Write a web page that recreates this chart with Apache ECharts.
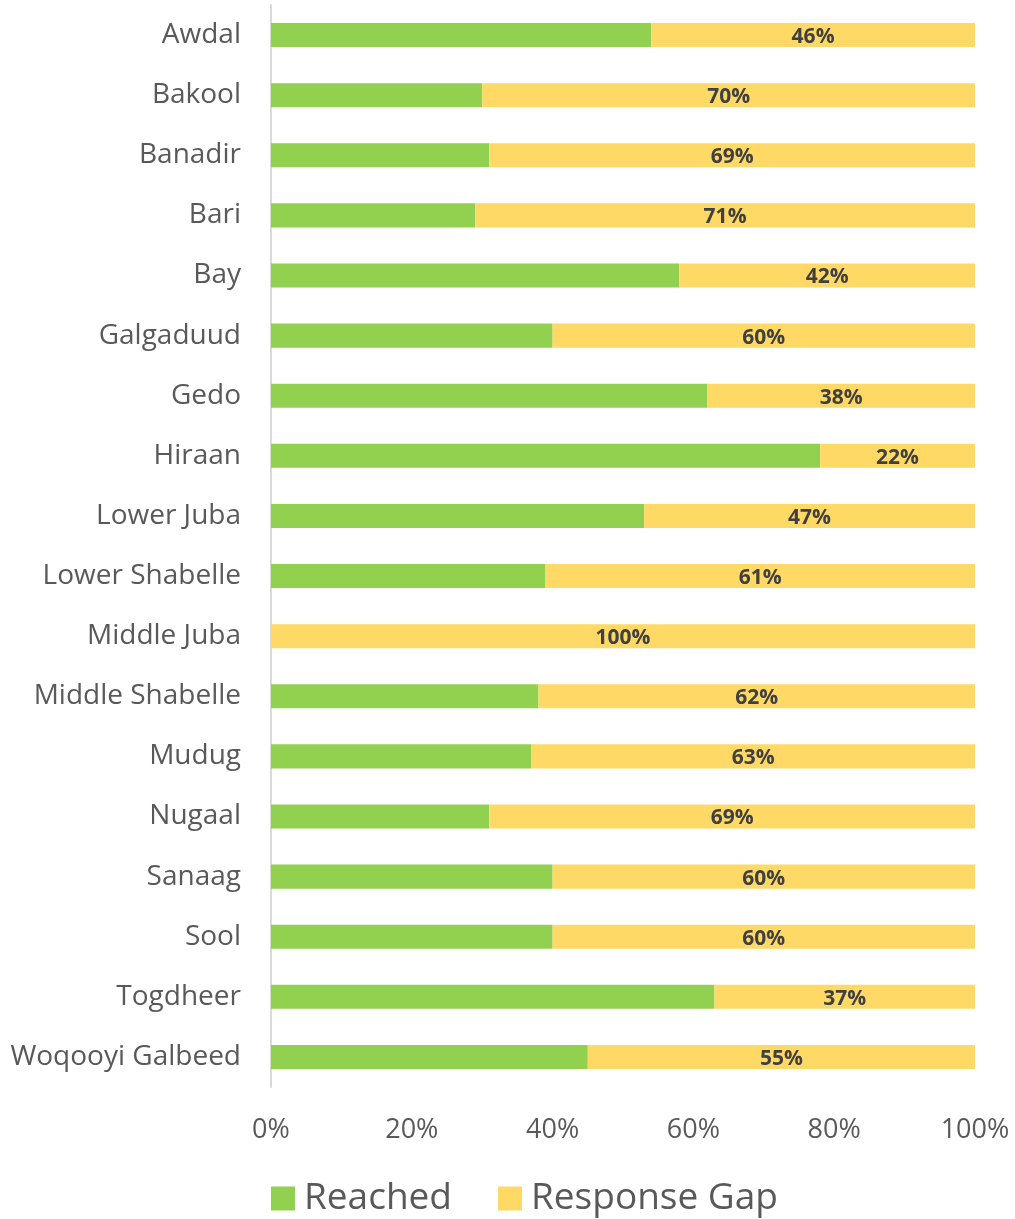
<!DOCTYPE html>
<html>
<head>
<meta charset="utf-8">
<script src="https://cdn.jsdelivr.net/npm/echarts@6/dist/echarts.min.js"></script>
<style>
  html, body { margin: 0; padding: 0; background: #fff; }
  #chart { width: 1015px; height: 1219px; }
</style>
</head>
<body>
<div id="chart"></div>
<script>
// regions, top to bottom
var regions = ['Awdal', 'Bakool', 'Banadir', 'Bari', 'Bay', 'Galgaduud', 'Gedo', 'Hiraan',
  'Lower Juba', 'Lower Shabelle', 'Middle Juba', 'Middle Shabelle', 'Mudug', 'Nugaal',
  'Sanaag', 'Sool', 'Togdheer', 'Woqooyi Galbeed'];
var reached = [54, 30, 31, 29, 58, 40, 62, 78, 53, 39, 0, 38, 37, 31, 40, 40, 63, 45];
var responseGap = [46, 70, 69, 71, 42, 60, 38, 22, 47, 61, 100, 62, 63, 69, 60, 60, 37, 55];
var xTicks = [0, 20, 40, 60, 80, 100];

var font = 'Open Sans';
var myChart = echarts.init(document.getElementById('chart'));

var option = {
  animation: false,
  textStyle: { fontFamily: font },
  grid: { left: 271, right: 40, top: 5, bottom: 132 },
  legend: {
    bottom: -3,
    left: 266,
    itemWidth: 24,
    itemHeight: 24,
    itemGap: 46,
    icon: 'rect',
    textStyle: { fontSize: 37, color: '#595959', fontFamily: font, padding: [0, 0, 0, 4] },
    data: ['Reached', 'Response Gap']
  },
  xAxis: {
    type: 'value',
    min: xTicks[0],
    max: xTicks[xTicks.length - 1],
    interval: 20,
    axisLine: { show: false },
    axisTick: { show: false },
    splitLine: { show: false },
    axisLabel: {
      margin: 30,
      fontSize: 27,
      color: '#595959',
      formatter: '{value}%'
    }
  },
  yAxis: {
    type: 'category',
    inverse: true,
    data: regions,
    axisLine: { show: true, lineStyle: { color: '#d9d9d9', width: 2 } },
    axisTick: { show: false },
    axisLabel: { margin: 30, fontSize: 28, color: '#595959' }
  },
  series: [
    {
      name: 'Reached',
      type: 'bar',
      stack: 'total',
      barWidth: '40%',
      itemStyle: { color: '#92D050' },
      data: reached
    },
    {
      name: 'Response Gap',
      type: 'bar',
      stack: 'total',
      barWidth: '40%',
      itemStyle: { color: '#FFD966' },
      label: {
        show: true,
        position: 'inside',
        formatter: '{c}%',
        fontSize: 21,
        fontWeight: 'bold',
        color: '#404040',
        offset: [0, 2]
      },
      data: responseGap
    }
  ]
};

myChart.setOption(option);
</script>
</body>
</html>
